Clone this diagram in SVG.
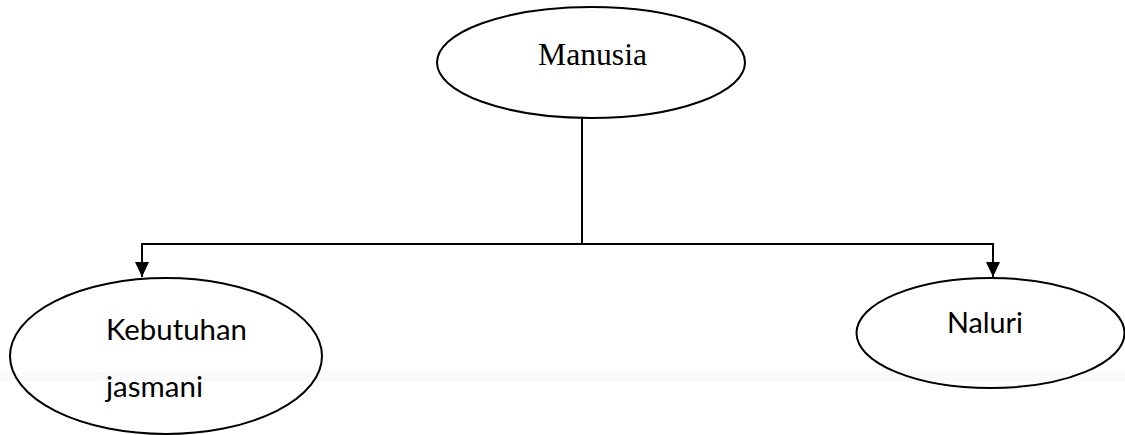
<svg xmlns="http://www.w3.org/2000/svg" width="1125" height="435" viewBox="0 0 1125 435">
  <style>
    .shape { fill: none; stroke: #000; stroke-width: 2; }
    .conn { fill: none; stroke: #000; stroke-width: 2; }
    .serif { font-family: "Liberation Serif", "Times New Roman", serif; font-size: 32px; fill: #000; }
    .sans { font-family: Lato, "Open Sans", "Liberation Sans", sans-serif; font-size: 28px; fill: #000; }
  </style>
  <defs>
    <marker id="arrow" markerWidth="15" markerHeight="14" refX="15" refY="7" orient="auto" markerUnits="userSpaceOnUse">
      <path d="M0,0 L15,7 L0,14 Z" fill="#000"/>
    </marker>
  </defs>
  <rect x="0" y="372" width="1125" height="9" fill="#fafafa"/>
  <g id="connectors">
    <line class="conn" x1="582" y1="118" x2="582" y2="244"/>
    <line class="conn" x1="141" y1="244" x2="994" y2="244"/>
    <line class="conn" x1="142" y1="244" x2="142" y2="277" marker-end="url(#arrow)"/>
    <line class="conn" x1="993" y1="244" x2="993" y2="277" marker-end="url(#arrow)"/>
  </g>
  <g id="node-manusia">
    <ellipse class="shape" cx="591" cy="62.5" rx="154" ry="55.5"/>
    <text class="serif" x="538" y="65" textLength="109" lengthAdjust="spacingAndGlyphs">Manusia</text>
  </g>
  <g id="node-kebutuhan">
    <ellipse class="shape" cx="166" cy="356" rx="156" ry="78"/>
    <text class="sans" x="106" y="340" textLength="141" lengthAdjust="spacingAndGlyphs">Kebutuhan</text>
    <text class="sans" x="106" y="397" textLength="97" lengthAdjust="spacingAndGlyphs">jasmani</text>
  </g>
  <g id="node-naluri">
    <ellipse class="shape" cx="990.5" cy="333" rx="134" ry="55"/>
    <text class="sans" x="947" y="333" textLength="76" lengthAdjust="spacingAndGlyphs">Naluri</text>
  </g>
</svg>
